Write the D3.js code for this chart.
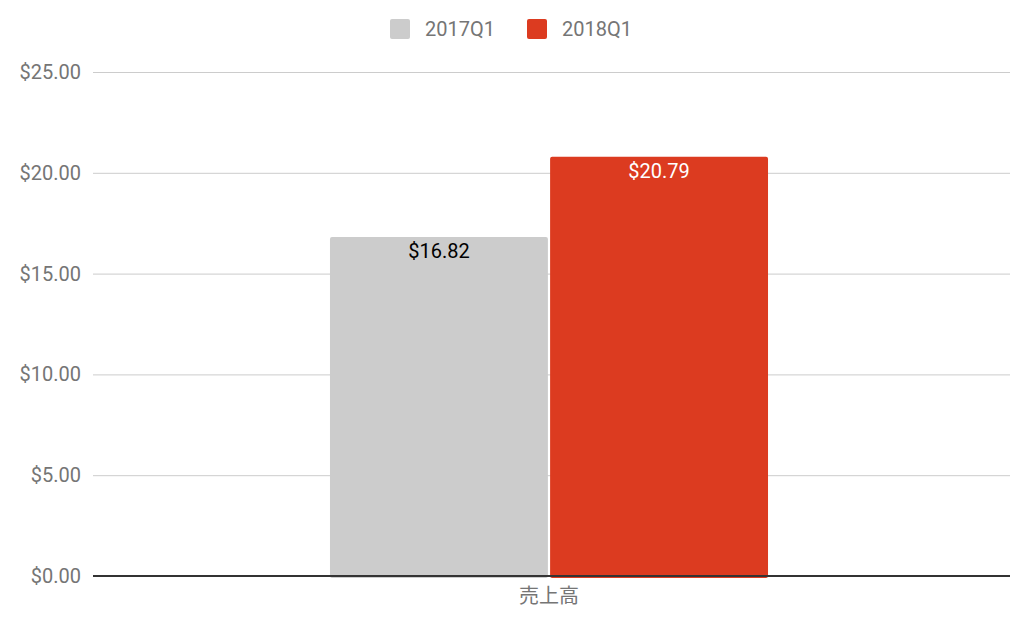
<!DOCTYPE html>
<html><head><meta charset="utf-8">
<script src="https://cdn.jsdelivr.net/npm/d3@7"></script>
<style>body{margin:0;background:#fff}svg{display:block}text{font-family:Roboto,"Noto Sans CJK JP",sans-serif}</style>
</head><body><svg id="c" width="1024" height="626"></svg>
<script>
const categories = ["売上高"];
const seriesNames = ["2017Q1", "2018Q1"];
const values2017 = [16.82];
const values2018 = [20.79];
const yTicks = [0, 5, 10, 15, 20, 25];
const colors = ["#cccccc", "#dc3b20"];
const labelColors = ["#000000", "#ffffff"];

const svg = d3.select("#c");
const m = {l: 93, r: 1010, t: 72, b: 576};
const FS = 20;
const y = d3.scaleLinear().domain([0, 25]).range([m.b, m.t]);
const x0 = d3.scaleBand().domain(categories).range([m.l, 1005]).paddingInner(0).paddingOuter(0.541);
const x1 = d3.scaleBand().domain(seriesNames).range([0, x0.bandwidth()]).paddingInner(0.01);
const fmt = v => "$" + d3.format(".2f")(v);

// grid
const yAxis = d3.axisLeft(y).tickValues(yTicks).tickFormat(fmt).tickSize(-(m.r - m.l)).tickPadding(12);
const ga = svg.append("g").attr("transform", `translate(${m.l},0)`).call(yAxis);
ga.select(".domain").remove();
ga.selectAll(".tick line").attr("stroke", "#cccccc").attr("stroke-width", 1);
ga.selectAll(".tick text").attr("fill", "#757575").attr("font-size", FS);

const data = categories.map((c, i) => ({cat: c, vals: [values2017[i], values2018[i]]}));
const groups = svg.append("g").selectAll("g").data(data).join("g")
  .attr("transform", d => `translate(${x0(d.cat)},0)`);
groups.selectAll("rect").data(d => d.vals.map((v, j) => ({v, j}))).join("rect")
  .attr("x", d => x1(seriesNames[d.j]))
  .attr("width", x1.bandwidth())
  .attr("y", d => y(d.v))
  .attr("height", d => y(0) - y(d.v) + 2)
  .attr("rx", 2)
  .attr("fill", d => colors[d.j]);
groups.selectAll("text.lbl").data(d => d.vals.map((v, j) => ({v, j}))).join("text")
  .attr("class", "lbl")
  .attr("x", d => x1(seriesNames[d.j]) + x1.bandwidth() / 2)
  .attr("y", d => y(d.v) + 21)
  .attr("text-anchor", "middle")
  .attr("font-size", FS)
  .attr("fill", d => labelColors[d.j])
  .text(d => fmt(d.v));

// baseline
svg.append("line").attr("x1", m.l).attr("x2", m.r).attr("y1", y(0)).attr("y2", y(0))
  .attr("stroke", "#333333").attr("stroke-width", 2);

// x axis labels
const xa = d3.axisBottom(x0).tickSize(0).tickPadding(13);
const gx = svg.append("g").attr("transform", `translate(0,${y(0)})`).call(xa);
gx.select(".domain").remove();
gx.selectAll(".tick text").attr("fill", "#757575").attr("font-size", FS)
  .attr("font-family", "'Noto Sans CJK JP',sans-serif");

// legend
const legX = [390, 527];
const leg = svg.append("g");
seriesNames.forEach((s, i) => {
  leg.append("rect").attr("x", legX[i]).attr("y", 19).attr("width", 20).attr("height", 20).attr("rx", 2).attr("fill", colors[i]);
  leg.append("text").attr("x", legX[i] + 35).attr("y", 36).attr("font-size", FS).attr("fill", "#757575").text(s);
});
</script></body></html>
